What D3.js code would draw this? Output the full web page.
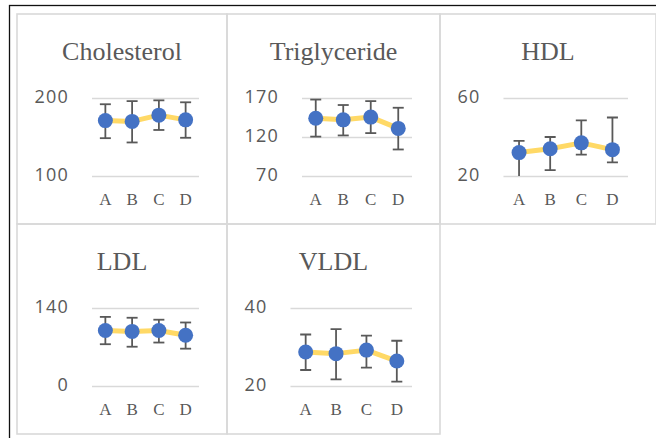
<!DOCTYPE html>
<html>
<head>
<meta charset="utf-8">
<script src="https://cdn.jsdelivr.net/npm/d3@7"></script>
<style>
body { margin: 0; background: #fff; }
</style>
</head>
<body>
<div id="chart"></div>
<script>
var categories = ["A", "B", "C", "D"];

var cholMean  = [171, 170, 178, 172];
var cholUpper = [192, 196, 197, 194.5];
var cholLower = [148.5, 143, 159, 149];
var cholTicks = [100, 200];

var trigMean  = [144, 142, 145.5, 131];
var trigUpper = [168, 161, 166, 157.5];
var trigLower = [120.5, 122, 125, 104];
var trigTicks = [70, 120, 170];

var hdlMean  = [32, 34, 37, 33.5];
var hdlUpper = [38, 40, 48.5, 50];
var hdlLower = [18, 23, 31, 27];
var hdlTicks = [20, 60];

var ldlMean  = [99.5, 98, 99.5, 91];
var ldlUpper = [124, 122.5, 119, 114];
var ldlLower = [75, 70.5, 78, 67];
var ldlTicks = [0, 140];

var vldlMean  = [28.7, 28.3, 29.2, 26.4];
var vldlUpper = [33.2, 34.6, 32.9, 31.6];
var vldlLower = [24.1, 21.7, 24.7, 21.1];
var vldlTicks = [20, 40];

var text_color, grid_color, line_color, marker_color, err_color;

function graphConfig()
{
    /// CONFIG VARIABLES ///
    text_color = "#595959";
    grid_color = "#d9d9d9";
    line_color = "#ffd966";
    marker_color = "#4472c4";
    err_color = "#595959";
    //// END OF CONFIG ////
}

var panels = [
    {title: "Cholesterol",  mean: cholMean, upper: cholUpper, lower: cholLower, ticks: cholTicks, col: 0, row: 0},
    {title: "Triglyceride", mean: trigMean, upper: trigUpper, lower: trigLower, ticks: trigTicks, col: 1, row: 0},
    {title: "HDL",          mean: hdlMean,  upper: hdlUpper,  lower: hdlLower,  ticks: hdlTicks,  col: 2, row: 0},
    {title: "LDL",          mean: ldlMean,  upper: ldlUpper,  lower: ldlLower,  ticks: ldlTicks,  col: 0, row: 1},
    {title: "VLDL",         mean: vldlMean, upper: vldlUpper, lower: vldlLower, ticks: vldlTicks, col: 1, row: 1}
];

var colX = [17, 227, 440, 656];
var rowY = [14, 224, 434];

var tickFont = "'Open Sans', sans-serif";
var serifFont = "'Liberation Serif', 'Times New Roman', serif";

function createGraph()
{
    var svg = d3.select("#chart").append("svg")
        .attr("width", 656)
        .attr("height", 438)
        .style("display", "block");

    // outer frame (only top and left visible)
    svg.append("rect")
        .attr("x", 9.5).attr("y", 5.5)
        .attr("width", 800).attr("height", 600)
        .attr("fill", "#fff")
        .attr("stroke", "#111")
        .attr("stroke-width", 1.3);

    panels.forEach(function (p, idx) {
        var left = colX[p.col], right = colX[p.col + 1];
        var top = rowY[p.row], bottom = rowY[p.row + 1];

        svg.append("rect")
            .attr("x", left).attr("y", top)
            .attr("width", right - left).attr("height", bottom - top)
            .attr("fill", "none")
            .attr("stroke", grid_color)
            .attr("stroke-width", 1.6);

        var g = svg.append("g");

        // measure the widest tick label like excel does
        var tmp = g.append("text")
            .style("font-family", tickFont)
            .style("font-size", "18px")
            .style("letter-spacing", "1.2px");
        var maxW = 0;
        p.ticks.forEach(function (t) {
            tmp.text(t);
            maxW = Math.max(maxW, tmp.node().getComputedTextLength());
        });
        tmp.remove();

        var plotLeft = left + 17.5 + maxW + 23;
        var plotRight = right - 28;
        var gridTop = top + 84;
        var gridBottom = top + 162;

        var x = d3.scaleBand().domain(categories).range([plotLeft, plotRight]);
        var y = d3.scaleLinear().domain(d3.extent(p.ticks)).range([gridBottom, gridTop]);

        var rows = categories.map(function (c, i) {
            return {cat: c, mean: p.mean[i], upper: p.upper[i], lower: p.lower[i]};
        });

        // title
        g.append("text")
            .attr("x", (left + right) / 2)
            .attr("y", top + 45.5)
            .attr("text-anchor", "middle")
            .attr("fill", text_color)
            .style("font-family", serifFont)
            .style("font-size", "26px")
            .text(p.title);

        // y axis with gridlines
        var ya = g.append("g")
            .attr("transform", "translate(" + plotLeft + ",0)")
            .call(d3.axisLeft(y).tickValues(p.ticks).tickSize(-(plotRight - plotLeft)).tickPadding(23));
        ya.select(".domain").remove();
        ya.selectAll("line").attr("stroke", grid_color).attr("stroke-width", 1.3);
        ya.selectAll("text")
            .attr("dy", "0.24em")
            .attr("fill", text_color)
            .style("font-family", tickFont)
            .style("font-size", "18px")
            .style("letter-spacing", "1.2px");

        // x axis labels
        var xa = g.append("g")
            .attr("transform", "translate(0," + gridBottom + ")")
            .call(d3.axisBottom(x).tickSize(0).tickPadding(17));
        xa.select(".domain").remove();
        xa.selectAll("text")
            .attr("fill", text_color)
            .style("font-family", serifFont)
            .style("font-size", "17px");

        var cx = function (d) { return x(d.cat) + x.bandwidth() / 2; };

        var line = d3.line()
            .x(cx)
            .y(function (d) { return y(d.mean); });

        g.append("path")
            .datum(rows)
            .attr("fill", "none")
            .attr("stroke", line_color)
            .attr("stroke-width", 5)
            .attr("stroke-linejoin", "round")
            .attr("stroke-linecap", "round")
            .attr("d", line);

        // error bars, clipped to the plot area
        var clipId = "clip" + idx;
        g.append("clipPath").attr("id", clipId)
            .append("rect")
            .attr("x", plotLeft - 10).attr("y", gridTop - 1)
            .attr("width", plotRight - plotLeft + 20).attr("height", gridBottom - gridTop + 1);

        var eb = g.append("g").attr("clip-path", "url(#" + clipId + ")")
            .selectAll("g.err").data(rows).enter().append("g")
            .attr("stroke", err_color)
            .attr("stroke-width", 1.8);
        eb.append("line")
            .attr("x1", cx).attr("x2", cx)
            .attr("y1", function (d) { return y(d.upper); })
            .attr("y2", function (d) { return y(d.lower); });
        eb.append("line")
            .attr("x1", function (d) { return cx(d) - 5.5; })
            .attr("x2", function (d) { return cx(d) + 5.5; })
            .attr("y1", function (d) { return y(d.upper); })
            .attr("y2", function (d) { return y(d.upper); });
        eb.append("line")
            .attr("x1", function (d) { return cx(d) - 5.5; })
            .attr("x2", function (d) { return cx(d) + 5.5; })
            .attr("y1", function (d) { return y(d.lower); })
            .attr("y2", function (d) { return y(d.lower); });

        g.selectAll("circle.pt").data(rows).enter().append("circle")
            .attr("class", "pt")
            .attr("cx", cx)
            .attr("cy", function (d) { return y(d.mean); })
            .attr("r", 7.5)
            .attr("fill", marker_color);
    });
}

graphConfig();
createGraph();
</script>
</body>
</html>
